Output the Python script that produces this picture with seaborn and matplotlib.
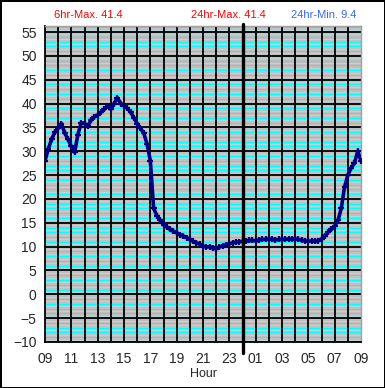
import numpy as np
import pandas as pd
import seaborn as sns
import matplotlib.pyplot as plt
from matplotlib.ticker import MultipleLocator

sns.set_style("white")
plt.rcParams['font.family'] = ['Liberation Sans', 'DejaVu Sans']

# hours since 09:00, 15 min steps
hours = [i * 0.25 for i in range(97)]
temps = [28.0, 30.5, 32.5, 34.0, 34.8, 35.8, 33.8, 32.5, 31.0, 29.8,
         33.5, 36.0, 35.8, 35.3, 36.5, 37.2, 37.6, 38.2, 38.8, 39.5,
         38.8, 40.0, 41.2, 40.0, 39.5, 39.0, 38.2, 37.0, 35.8, 34.8,
         33.8, 31.5, 28.0, 18.0, 16.5, 15.5, 14.6, 14.1, 13.6, 13.2,
         12.9, 12.5, 12.2, 11.9, 11.5, 11.1, 10.8, 10.5, 10.1, 9.9,
         10.0, 9.7, 9.6, 9.9, 10.2, 10.4, 10.6, 10.8, 10.9, 11.0,
         11.1, 11.1, 11.3, 11.3, 11.2, 11.4, 11.5, 11.5, 11.6, 11.5,
         11.4, 11.5, 11.5, 11.5, 11.6, 11.5, 11.6, 11.5, 11.3, 11.2,
         11.1, 11.2, 11.1, 11.2, 11.6, 12.3, 13.0, 13.6, 14.3, 15.5,
         18.0, 22.5, 25.0, 26.5, 27.5, 30.0, 28.0]
hour_labels = ['09', '11', '13', '15', '17', '19', '21', '23',
               '01', '03', '05', '07', '09']

df = pd.DataFrame({'h': hours, 'temp': temps})

fig = plt.figure(figsize=(3.85, 3.88), dpi=100, facecolor='white',
                 edgecolor='black', linewidth=2)
ax = fig.add_axes([0.1169, 0.1186, 0.8208, 0.8144])
ax.set_facecolor('#c0c0c0')

# minor stripes
for v in np.arange(-10, 56.5, 0.5):
    if v % 5 == 0:
        continue
    if v % 1 == 0:
        ax.axhline(v, color='#00ffff', lw=0.72, zorder=1)
    else:
        ax.axhline(v, color='#b8d4d8', lw=0.72, zorder=1)
for v in range(-10, 56, 5):
    ax.axhline(v, color='black', lw=1.3, zorder=2)
for h in range(1, 24):
    ax.axvline(h, color='black', lw=1.3, zorder=2)

sns.lineplot(data=df, x='h', y='temp', ax=ax, color='#000080', lw=2.6,
             marker='+', markersize=5, markeredgewidth=1.6,
             markeredgecolor='#000080', zorder=4)

ax.axvline(15, ymin=-0.035, ymax=1.006, color='black', lw=2.4,
           clip_on=False, zorder=5)

ax.set_xlim(0, 24)
ax.set_ylim(-10, 56.26)
ax.set_xticks(range(0, 25, 2))
ax.set_xticklabels(hour_labels)
ax.xaxis.set_minor_locator(MultipleLocator(1))
ax.set_yticks(range(-10, 56, 5))
ax.tick_params(axis='both', which='major', direction='out', length=4,
               width=1.2, color='black', labelsize=10, pad=2)
ax.tick_params(axis='x', which='minor', direction='out', length=4,
               width=1.2, color='black')
ax.tick_params(axis='x', which='major', pad=3)
ax.set_xlabel('Hour', fontsize=9, labelpad=2)
ax.set_ylabel('')

for s in ['left', 'bottom']:
    ax.spines[s].set_color('black')
    ax.spines[s].set_linewidth(1.3)
for s in ['top', 'right']:
    ax.spines[s].set_color('#a0a0a0')
    ax.spines[s].set_linewidth(1)

fig.text(88 / 385, 1 - 15 / 388, '6hr-Max. 41.4', color='#ff0000',
         fontsize=8, ha='center', va='center')
fig.text(228 / 385, 1 - 15 / 388, '24hr-Max. 41.4', color='#ff0000',
         fontsize=8, ha='center', va='center')
fig.text(324 / 385, 1 - 15 / 388, '24hr-Min. 9.4', color='#3366ff',
         fontsize=8, ha='center', va='center')

fig.savefig('out.png', dpi=100, facecolor='white', edgecolor='black')
